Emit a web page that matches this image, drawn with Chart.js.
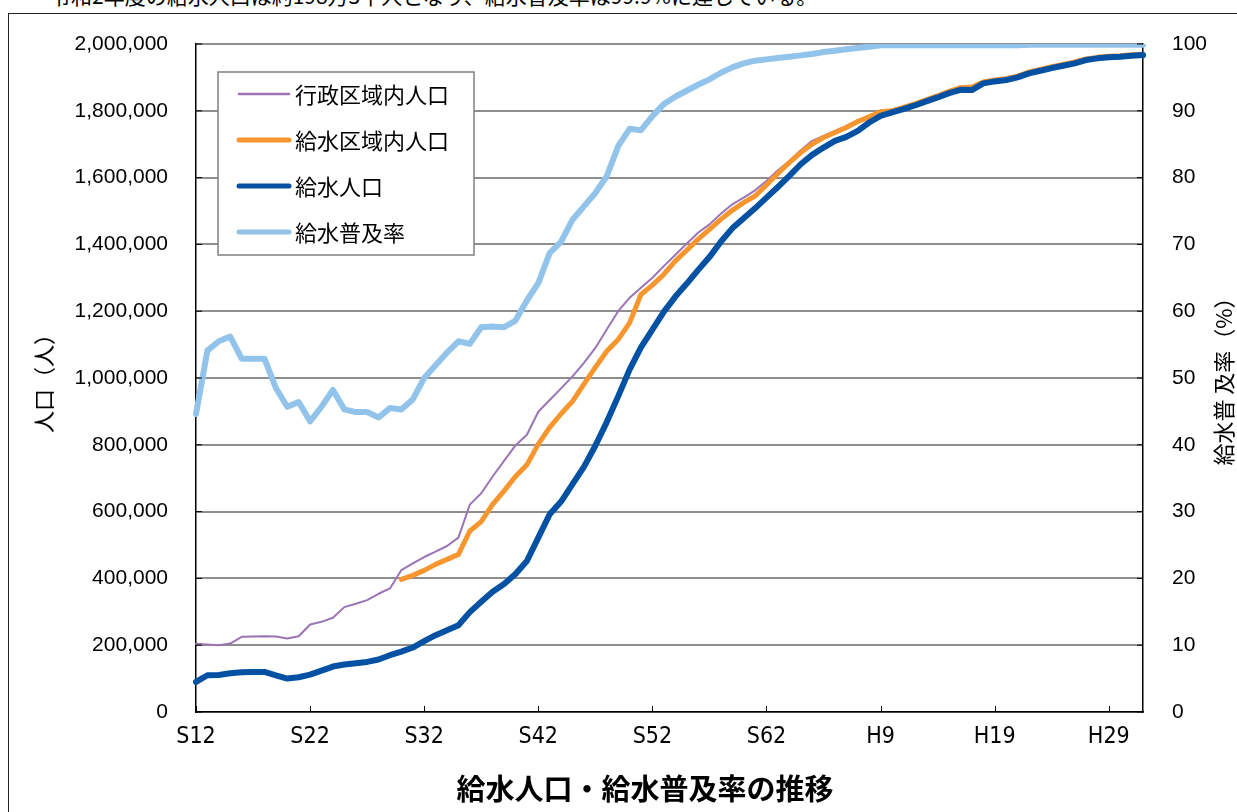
<!DOCTYPE html>
<html>
<head>
<meta charset="utf-8">
<script src="https://cdn.jsdelivr.net/npm/chart.js@4.4.1/dist/chart.umd.min.js"></script>
<style>
  html, body { margin: 0; padding: 0; background: #fff; overflow: hidden; }
  #wrap { position: relative; width: 1237px; height: 812px; }
  #frame { position: absolute; left: 8px; top: 13px; width: 1300px; height: 900px; border: 1.5px solid #222; }
  #lead { position: absolute; left: 50px; top: -16px; font: 21px/22px 'Noto Sans CJK JP', sans-serif; color: #000; white-space: nowrap; }
  #chartP { position: absolute; left: 0; top: 0; }
</style>
</head>
<body>
<div id="wrap">
  <div id="frame"></div>
  <div id="lead">令和2年度の給水人口は約198万3千人となり、給水普及率は99.9%に達している。</div>
  <canvas id="chartP" width="1237" height="812"></canvas>
</div>
<script>
// 年度ラベル S12(1937) 〜 R2(2020)
const years = [
  "S12","S13","S14","S15","S16","S17","S18","S19","S20","S21",
  "S22","S23","S24","S25","S26","S27","S28","S29","S30","S31",
  "S32","S33","S34","S35","S36","S37","S38","S39","S40","S41",
  "S42","S43","S44","S45","S46","S47","S48","S49","S50","S51",
  "S52","S53","S54","S55","S56","S57","S58","S59","S60","S61",
  "S62","S63","H1","H2","H3","H4","H5","H6","H7","H8",
  "H9","H10","H11","H12","H13","H14","H15","H16","H17","H18",
  "H19","H20","H21","H22","H23","H24","H25","H26","H27","H28",
  "H29","H30","R1","R2"
];

// 行政区域内人口
const gyoseiPop = [
  204000,202000,200000,205000,225000,226000,227000,226000,220000,227000,
  262000,270000,282000,314000,324000,335000,354000,370000,425000,445000,
  464000,480000,497000,522000,621000,655000,705000,752000,798000,830000,
  899000,934000,969000,1005000,1045000,1090000,1145000,1200000,1240000,1270000,
  1300000,1335000,1368000,1402000,1435000,1460000,1492000,1520000,1540000,1562000,
  1590000,1622000,1650000,1682000,1710000,1725000,1740000,1755000,1772000,1785000,
  1800000,1803000,1813000,1824000,1836000,1848000,1861000,1872000,1874000,1888000,
  1894000,1898000,1906000,1917000,1925000,1933000,1940000,1947000,1956000,1961000,
  1964000,1966000,1969000,1970000
];

// 給水区域内人口 (S30から)
const kyusuiAreaPop = [
  null,null,null,null,null,null,null,null,null,null,
  null,null,null,null,null,null,null,null,397000,409000,
  424000,442000,457000,472000,542000,570000,622000,662000,705000,740000,
  802000,852000,893000,930000,982000,1032000,1080000,1115000,1165000,1250000,
  1278000,1310000,1350000,1382000,1415000,1445000,1475000,1502000,1525000,1545000,
  1578000,1612000,1645000,1675000,1700000,1720000,1735000,1750000,1768000,1782000,
  1797000,1800000,1810000,1821000,1833000,1845000,1858000,1869000,1871000,1886000,
  1892000,1896000,1904000,1916000,1924000,1932000,1939000,1946000,1955000,1960000,
  1963000,1965000,1968000,1969000
];

// 給水人口
const kyusuiPop = [
  90000,110000,111000,116000,119000,120000,120000,110000,100000,104000,
  112000,124000,136000,142000,146000,150000,157000,170000,181000,193000,
  212000,230000,245000,260000,299000,330000,360000,383000,413000,452000,
  522000,592000,630000,682000,734000,797000,868000,945000,1025000,1092000,
  1145000,1198000,1243000,1282000,1323000,1362000,1408000,1448000,1478000,1508000,
  1540000,1572000,1605000,1640000,1668000,1690000,1710000,1722000,1740000,1765000,
  1785000,1795000,1805000,1816000,1828000,1840000,1853000,1863000,1862000,1882000,
  1888000,1892000,1900000,1912000,1920000,1928000,1935000,1942000,1952000,1957000,
  1960000,1962000,1965000,1967000
];

// 給水普及率 (%)
const fukyuRate = [
  44.6,54.1,55.5,56.2,52.9,52.9,52.9,48.5,45.7,46.4,
  43.5,45.7,48.2,45.3,44.9,44.9,44.1,45.5,45.3,46.8,
  50.0,51.9,53.8,55.5,55.1,57.6,57.7,57.6,58.6,61.6,
  64.2,68.7,70.4,73.7,75.7,77.7,80.2,84.7,87.3,87.1,
  89.2,91.0,92.1,93.0,93.9,94.7,95.7,96.5,97.1,97.5,
  97.7,97.9,98.1,98.3,98.5,98.8,99.0,99.2,99.4,99.6,
  99.8,99.8,99.8,99.8,99.8,99.8,99.8,99.8,99.8,99.8,
  99.8,99.8,99.8,99.9,99.9,99.9,99.9,99.9,99.9,99.9,
  99.9,99.9,99.9,99.9
];

const jpFont = "'Noto Sans CJK JP', sans-serif";
const numFont = "'Liberation Sans', Arial, sans-serif";
const narrowFont = "'Liberation Sans Narrow', 'DejaVu Sans Condensed', sans-serif";

// 凡例・軸タイトル・内向き目盛など
const extras = {
  id: 'extras',
  afterDraw(chart) {
    const ctx = chart.ctx;
    const a = chart.chartArea;
    const xs = chart.scales.x, ys = chart.scales.y, y2 = chart.scales.y2;
    ctx.save();

    // 内向きの目盛
    ctx.strokeStyle = '#000';
    ctx.lineWidth = 1;
    ctx.beginPath();
    for (let i = 0; i < years.length; i += 10) {
      const px = Math.round(xs.getPixelForValue(i)) + 0.5;
      ctx.moveTo(px, a.bottom);
      ctx.lineTo(px, a.bottom - 6);
    }
    ys.ticks.forEach(t => {
      const py = ys.getPixelForValue(t.value);
      ctx.moveTo(a.left, py);
      ctx.lineTo(a.left + 6, py);
    });
    y2.ticks.forEach(t => {
      const py = y2.getPixelForValue(t.value);
      ctx.moveTo(a.right, py);
      ctx.lineTo(a.right - 6, py);
    });
    ctx.stroke();

    // 凡例
    const bx = 218, by = 72, bw = 256, bh = 183;
    ctx.fillStyle = '#fff';
    ctx.fillRect(bx, by, bw, bh);
    ctx.strokeStyle = '#808080';
    ctx.lineWidth = 1.5;
    ctx.strokeRect(bx, by, bw, bh);
    ctx.font = '22px ' + jpFont;
    ctx.textBaseline = 'middle';
    ctx.textAlign = 'left';
    chart.data.datasets.forEach((ds, i) => {
      const ly = 94 + i * 46;
      ctx.strokeStyle = ds.borderColor;
      ctx.lineWidth = ds.legendWidth;
      ctx.lineCap = 'round';
      ctx.beginPath();
      ctx.moveTo(239, ly);
      ctx.lineTo(289, ly);
      ctx.stroke();
      ctx.fillStyle = '#000';
      ctx.fillText(ds.label, 295, ly + 1);
    });

    // 軸タイトル
    ctx.fillStyle = '#000';
    ctx.font = '22px ' + jpFont;
    ctx.textAlign = 'center';
    ctx.save();
    ctx.translate(44, (a.top + a.bottom) / 2);
    ctx.rotate(-Math.PI / 2);
    ctx.fillText('人口（人）', 0, 0);
    ctx.restore();
    ctx.save();
    ctx.translate(1224, (a.top + a.bottom) / 2 - 2);
    ctx.rotate(-Math.PI / 2);
    ctx.fillText('給水普 及率（%）', 0, 0);
    ctx.restore();

    // 図タイトル
    ctx.font = 'bold 29px ' + jpFont;
    ctx.fillText('給水人口・給水普及率の推移', 645, 789);
    ctx.restore();
  }
};

const ctx = document.getElementById('chartP');
const chart = new Chart(ctx, {
  type: 'line',
  data: {
    labels: years,
    datasets: [
      { label: '行政区域内人口', data: gyoseiPop, yAxisID: 'y', borderColor: '#9B74B6',
        borderWidth: 2, legendWidth: 2.5, order: 2 },
      { label: '給水区域内人口', data: kyusuiAreaPop, yAxisID: 'y', borderColor: '#F7962E',
        borderWidth: 5, legendWidth: 5, order: 1 },
      { label: '給水人口', data: kyusuiPop, yAxisID: 'y', borderColor: '#0351A2',
        borderWidth: 6, legendWidth: 5, order: 0 },
      { label: '給水普及率', data: fukyuRate, yAxisID: 'y2', borderColor: '#92C4EB',
        borderWidth: 6, legendWidth: 5, order: 3 }
    ]
  },
  options: {
    responsive: false,
    animation: false,
    elements: {
      point: { radius: 0, hoverRadius: 0 },
      line: { tension: 0, borderJoinStyle: 'round', borderCapStyle: 'round', fill: false }
    },
    layout: { padding: { top: 44, left: 0, right: 0, bottom: 0 } },
    plugins: {
      legend: { display: false },
      tooltip: { enabled: false },
      title: { display: false }
    },
    scales: {
      x: {
        type: 'category',
        offset: false,
        grid: { display: false, drawTicks: false },
        border: { display: true, color: '#000', width: 1.5 },
        ticks: {
          autoSkip: false,
          maxRotation: 0,
          padding: 11,
          color: '#000',
          font: { family: narrowFont, size: 23 },
          callback: (v, i) => (i % 10 === 0 ? years[i] : '')
        },
        afterFit: s => { s.height = 100; }
      },
      y: {
        position: 'left',
        min: 0,
        max: 2000000,
        grid: { color: '#8e8e8e', lineWidth: 2, drawTicks: false },
        border: { display: true, color: '#000', width: 1.5 },
        ticks: {
          stepSize: 200000,
          padding: 28,
          color: '#000',
          font: { family: numFont, size: 21 },
          callback: v => v.toLocaleString('en-US')
        },
        afterFit: s => { s.width = 196; }
      },
      y2: {
        position: 'right',
        min: 0,
        max: 100,
        grid: { drawOnChartArea: false, drawTicks: false },
        border: { display: true, color: '#000', width: 1.5 },
        ticks: {
          stepSize: 10,
          padding: 29,
          color: '#000',
          font: { family: numFont, size: 21 }
        },
        afterFit: s => { s.width = 94; }
      }
    }
  },
  plugins: [extras]
});
</script>
</body>
</html>
